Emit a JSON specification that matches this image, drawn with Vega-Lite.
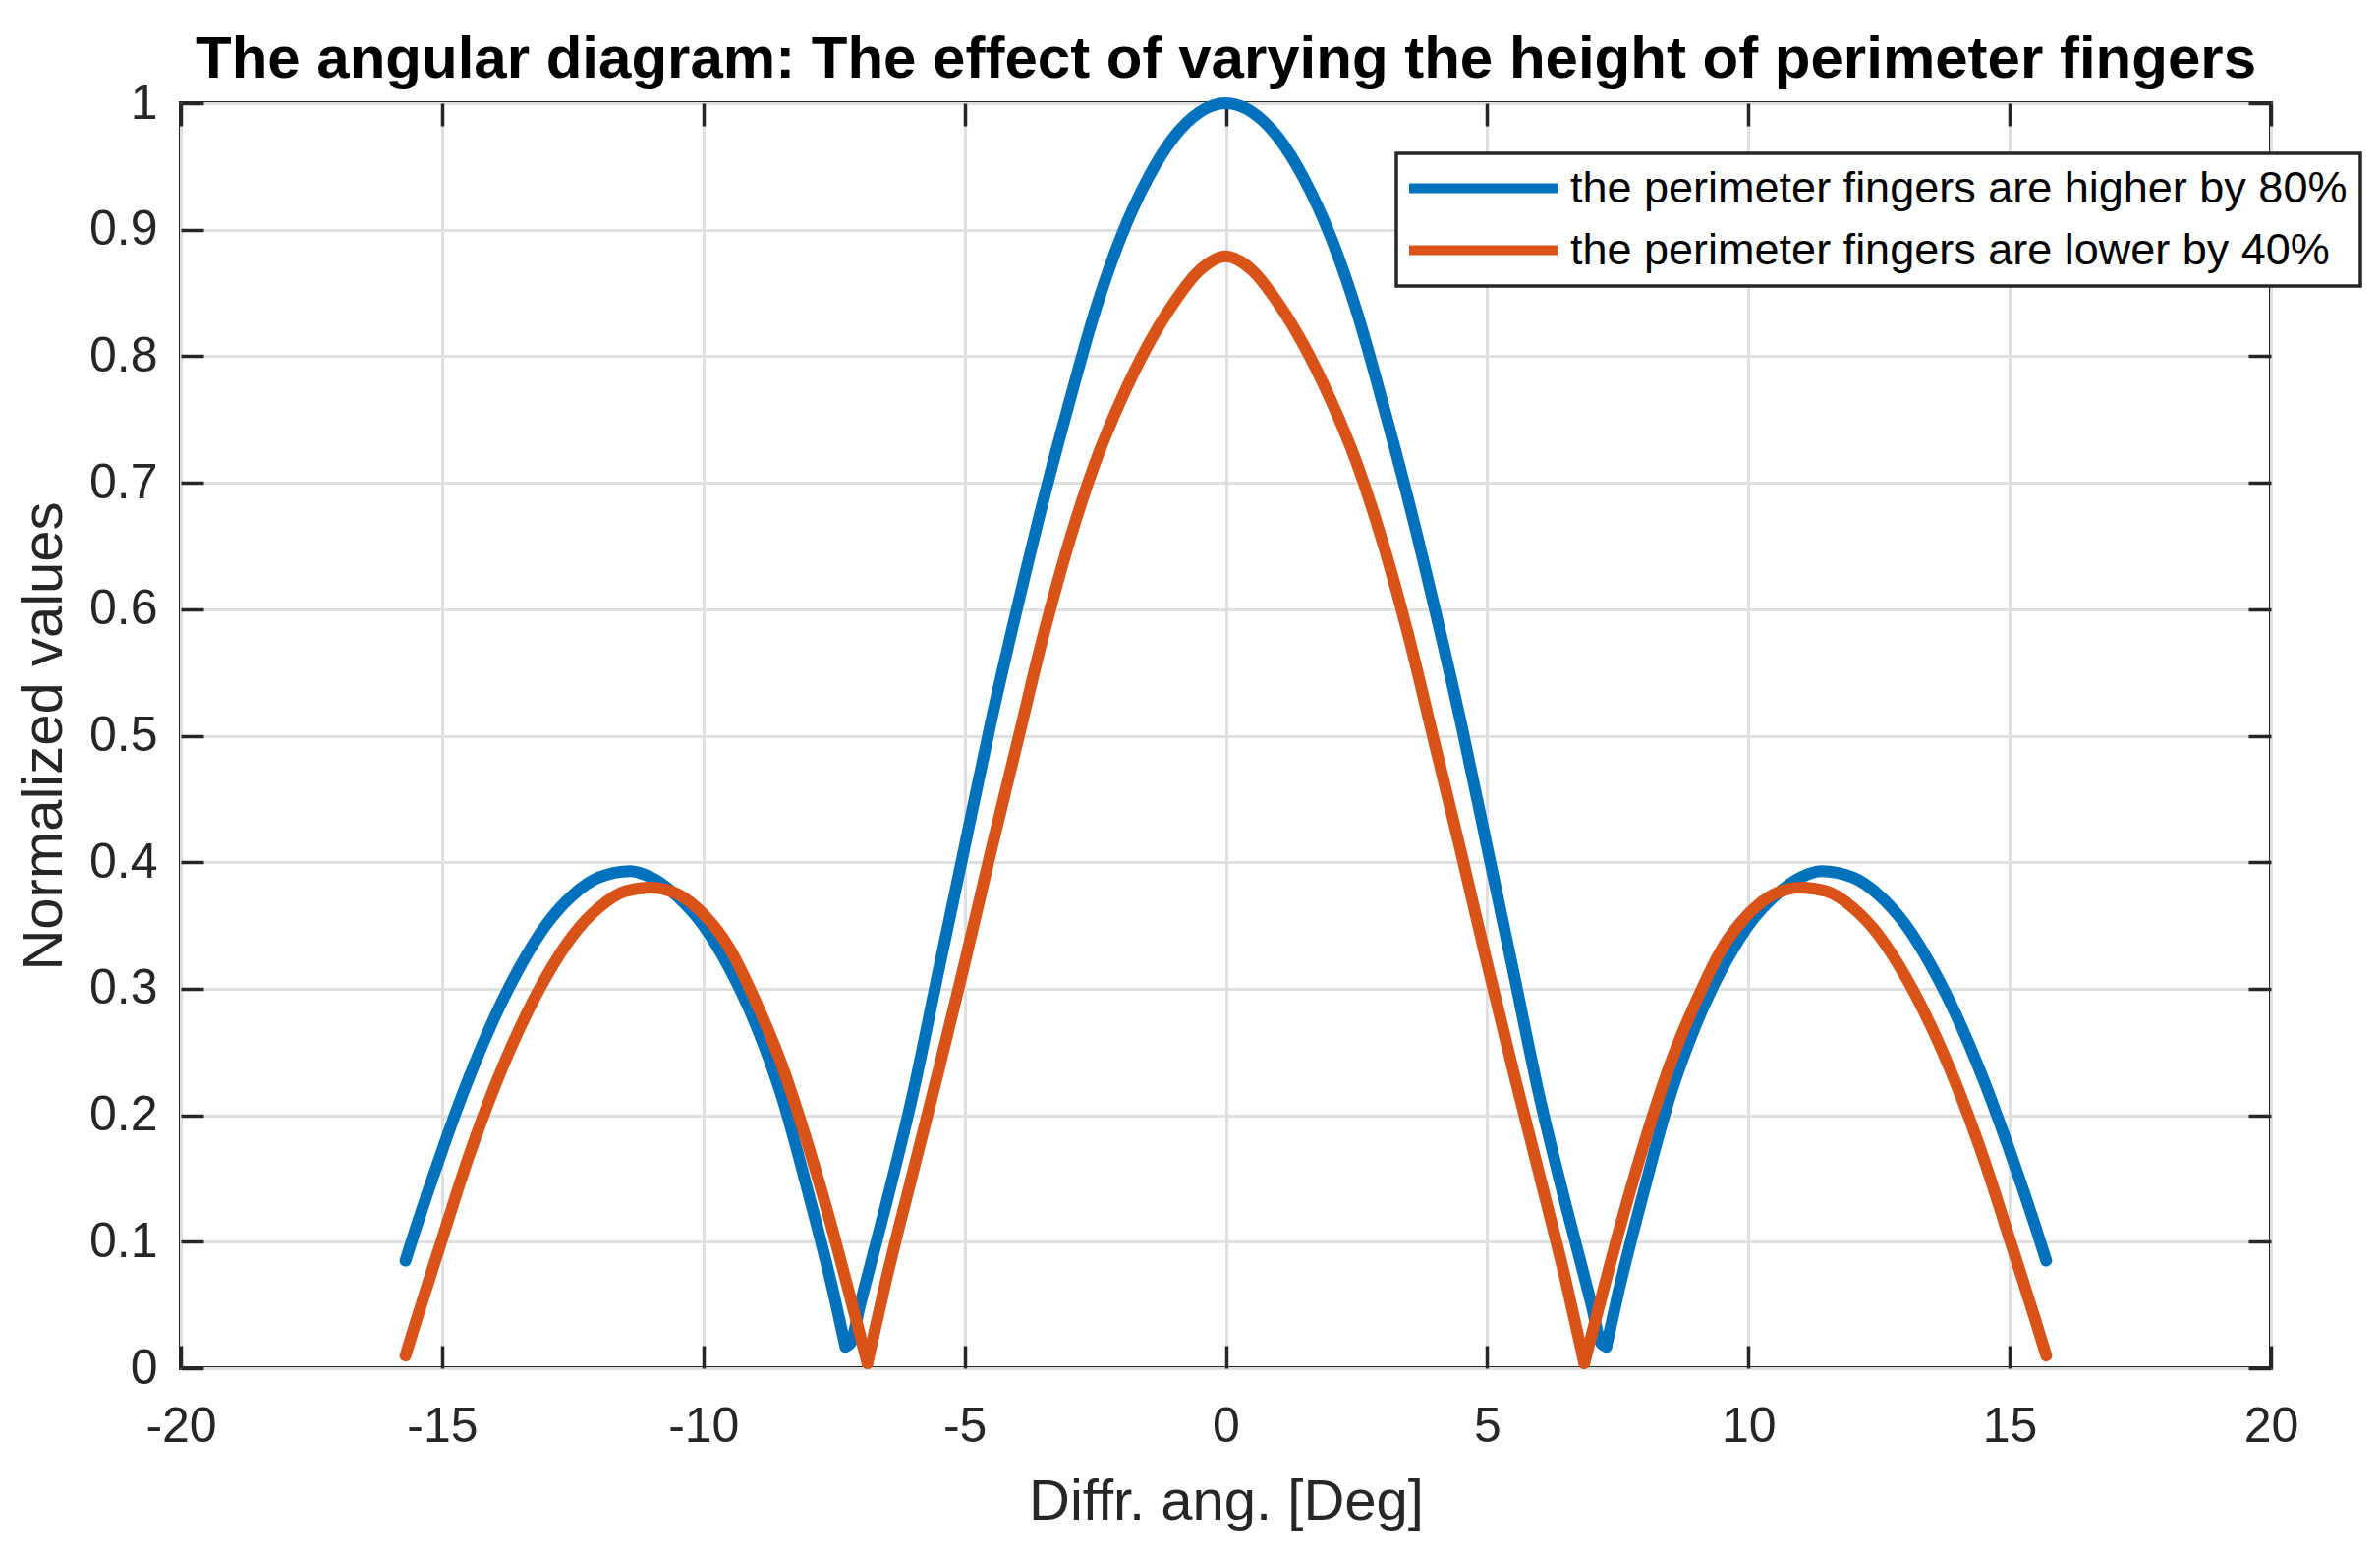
{
  "$schema": "https://vega.github.io/schema/vega-lite/v6.json",
  "width": 2127,
  "height": 1287,
  "autosize": {"type": "none"},
  "padding": {"left": 184, "top": 105, "right": 111, "bottom": 190},
  "background": "white",
  "title": {
    "text": "The angular diagram: The effect of varying the height of perimeter fingers",
    "font": "Liberation Sans", "fontSize": 60, "fontWeight": "bold", "color": "#000000",
    "anchor": "middle", "frame": "group", "baseline": "alphabetic", "offset": -59
  },
  "config": {
    "font": "Liberation Sans",
    "view": {"stroke": "#262626", "strokeWidth": 4},
    "legend": {"strokeWidth": 3.5}
  },
  "data": {"values": [
    {"angle": -15.7, "value": 0.085, "part": 1, "series": "the perimeter fingers are higher by 80%"},
    {"angle": -15.5, "value": 0.111, "part": 1, "series": "the perimeter fingers are higher by 80%"},
    {"angle": -15.0, "value": 0.172, "part": 1, "series": "the perimeter fingers are higher by 80%"},
    {"angle": -14.5, "value": 0.228, "part": 1, "series": "the perimeter fingers are higher by 80%"},
    {"angle": -14.0, "value": 0.277, "part": 1, "series": "the perimeter fingers are higher by 80%"},
    {"angle": -13.5, "value": 0.318, "part": 1, "series": "the perimeter fingers are higher by 80%"},
    {"angle": -13.0, "value": 0.351, "part": 1, "series": "the perimeter fingers are higher by 80%"},
    {"angle": -12.5, "value": 0.374, "part": 1, "series": "the perimeter fingers are higher by 80%"},
    {"angle": -12.0, "value": 0.388, "part": 1, "series": "the perimeter fingers are higher by 80%"},
    {"angle": -11.4, "value": 0.393, "part": 1, "series": "the perimeter fingers are higher by 80%"},
    {"angle": -11.0, "value": 0.388, "part": 1, "series": "the perimeter fingers are higher by 80%"},
    {"angle": -10.5, "value": 0.373, "part": 1, "series": "the perimeter fingers are higher by 80%"},
    {"angle": -10.0, "value": 0.350, "part": 1, "series": "the perimeter fingers are higher by 80%"},
    {"angle": -9.5, "value": 0.316, "part": 1, "series": "the perimeter fingers are higher by 80%"},
    {"angle": -9.0, "value": 0.272, "part": 1, "series": "the perimeter fingers are higher by 80%"},
    {"angle": -8.5, "value": 0.215, "part": 1, "series": "the perimeter fingers are higher by 80%"},
    {"angle": -8.0, "value": 0.140, "part": 1, "series": "the perimeter fingers are higher by 80%"},
    {"angle": -7.5, "value": 0.058, "part": 1, "series": "the perimeter fingers are higher by 80%"},
    {"angle": -7.28, "value": 0.017, "part": 1, "series": "the perimeter fingers are higher by 80%"},
    {"angle": -7.28, "value": 0.017, "part": 2, "series": "the perimeter fingers are higher by 80%"},
    {"angle": -7.18, "value": 0.02, "part": 2, "series": "the perimeter fingers are higher by 80%"},
    {"angle": -7.0, "value": 0.05, "part": 2, "series": "the perimeter fingers are higher by 80%"},
    {"angle": -6.5, "value": 0.13, "part": 2, "series": "the perimeter fingers are higher by 80%"},
    {"angle": -6.0, "value": 0.215, "part": 2, "series": "the perimeter fingers are higher by 80%"},
    {"angle": -5.5, "value": 0.314, "part": 2, "series": "the perimeter fingers are higher by 80%"},
    {"angle": -5.0, "value": 0.412, "part": 2, "series": "the perimeter fingers are higher by 80%"},
    {"angle": -4.5, "value": 0.51, "part": 2, "series": "the perimeter fingers are higher by 80%"},
    {"angle": -4.0, "value": 0.60, "part": 2, "series": "the perimeter fingers are higher by 80%"},
    {"angle": -3.5, "value": 0.685, "part": 2, "series": "the perimeter fingers are higher by 80%"},
    {"angle": -3.0, "value": 0.763, "part": 2, "series": "the perimeter fingers are higher by 80%"},
    {"angle": -2.5, "value": 0.836, "part": 2, "series": "the perimeter fingers are higher by 80%"},
    {"angle": -2.0, "value": 0.895, "part": 2, "series": "the perimeter fingers are higher by 80%"},
    {"angle": -1.5, "value": 0.94, "part": 2, "series": "the perimeter fingers are higher by 80%"},
    {"angle": -1.0, "value": 0.973, "part": 2, "series": "the perimeter fingers are higher by 80%"},
    {"angle": -0.5, "value": 0.993, "part": 2, "series": "the perimeter fingers are higher by 80%"},
    {"angle": 0.0, "value": 1.0, "part": 2, "series": "the perimeter fingers are higher by 80%"},
    {"angle": 0.5, "value": 0.993, "part": 2, "series": "the perimeter fingers are higher by 80%"},
    {"angle": 1.0, "value": 0.973, "part": 2, "series": "the perimeter fingers are higher by 80%"},
    {"angle": 1.5, "value": 0.94, "part": 2, "series": "the perimeter fingers are higher by 80%"},
    {"angle": 2.0, "value": 0.895, "part": 2, "series": "the perimeter fingers are higher by 80%"},
    {"angle": 2.5, "value": 0.836, "part": 2, "series": "the perimeter fingers are higher by 80%"},
    {"angle": 3.0, "value": 0.763, "part": 2, "series": "the perimeter fingers are higher by 80%"},
    {"angle": 3.5, "value": 0.685, "part": 2, "series": "the perimeter fingers are higher by 80%"},
    {"angle": 4.0, "value": 0.60, "part": 2, "series": "the perimeter fingers are higher by 80%"},
    {"angle": 4.5, "value": 0.51, "part": 2, "series": "the perimeter fingers are higher by 80%"},
    {"angle": 5.0, "value": 0.412, "part": 2, "series": "the perimeter fingers are higher by 80%"},
    {"angle": 5.5, "value": 0.314, "part": 2, "series": "the perimeter fingers are higher by 80%"},
    {"angle": 6.0, "value": 0.215, "part": 2, "series": "the perimeter fingers are higher by 80%"},
    {"angle": 6.5, "value": 0.13, "part": 2, "series": "the perimeter fingers are higher by 80%"},
    {"angle": 7.0, "value": 0.05, "part": 2, "series": "the perimeter fingers are higher by 80%"},
    {"angle": 7.18, "value": 0.02, "part": 2, "series": "the perimeter fingers are higher by 80%"},
    {"angle": 7.28, "value": 0.017, "part": 2, "series": "the perimeter fingers are higher by 80%"},
    {"angle": 7.28, "value": 0.017, "part": 3, "series": "the perimeter fingers are higher by 80%"},
    {"angle": 7.5, "value": 0.058, "part": 3, "series": "the perimeter fingers are higher by 80%"},
    {"angle": 8.0, "value": 0.140, "part": 3, "series": "the perimeter fingers are higher by 80%"},
    {"angle": 8.5, "value": 0.215, "part": 3, "series": "the perimeter fingers are higher by 80%"},
    {"angle": 9.0, "value": 0.272, "part": 3, "series": "the perimeter fingers are higher by 80%"},
    {"angle": 9.5, "value": 0.316, "part": 3, "series": "the perimeter fingers are higher by 80%"},
    {"angle": 10.0, "value": 0.350, "part": 3, "series": "the perimeter fingers are higher by 80%"},
    {"angle": 10.5, "value": 0.373, "part": 3, "series": "the perimeter fingers are higher by 80%"},
    {"angle": 11.0, "value": 0.388, "part": 3, "series": "the perimeter fingers are higher by 80%"},
    {"angle": 11.4, "value": 0.393, "part": 3, "series": "the perimeter fingers are higher by 80%"},
    {"angle": 12.0, "value": 0.388, "part": 3, "series": "the perimeter fingers are higher by 80%"},
    {"angle": 12.5, "value": 0.374, "part": 3, "series": "the perimeter fingers are higher by 80%"},
    {"angle": 13.0, "value": 0.351, "part": 3, "series": "the perimeter fingers are higher by 80%"},
    {"angle": 13.5, "value": 0.318, "part": 3, "series": "the perimeter fingers are higher by 80%"},
    {"angle": 14.0, "value": 0.277, "part": 3, "series": "the perimeter fingers are higher by 80%"},
    {"angle": 14.5, "value": 0.228, "part": 3, "series": "the perimeter fingers are higher by 80%"},
    {"angle": 15.0, "value": 0.172, "part": 3, "series": "the perimeter fingers are higher by 80%"},
    {"angle": 15.5, "value": 0.111, "part": 3, "series": "the perimeter fingers are higher by 80%"},
    {"angle": 15.7, "value": 0.085, "part": 3, "series": "the perimeter fingers are higher by 80%"},
    {"angle": -15.7, "value": 0.01, "part": 1, "series": "the perimeter fingers are lower by 40%"},
    {"angle": -15.5, "value": 0.037, "part": 1, "series": "the perimeter fingers are lower by 40%"},
    {"angle": -15.0, "value": 0.102, "part": 1, "series": "the perimeter fingers are lower by 40%"},
    {"angle": -14.5, "value": 0.166, "part": 1, "series": "the perimeter fingers are lower by 40%"},
    {"angle": -14.0, "value": 0.222, "part": 1, "series": "the perimeter fingers are lower by 40%"},
    {"angle": -13.5, "value": 0.27, "part": 1, "series": "the perimeter fingers are lower by 40%"},
    {"angle": -13.0, "value": 0.31, "part": 1, "series": "the perimeter fingers are lower by 40%"},
    {"angle": -12.5, "value": 0.342, "part": 1, "series": "the perimeter fingers are lower by 40%"},
    {"angle": -12.0, "value": 0.364, "part": 1, "series": "the perimeter fingers are lower by 40%"},
    {"angle": -11.5, "value": 0.377, "part": 1, "series": "the perimeter fingers are lower by 40%"},
    {"angle": -11.0, "value": 0.380, "part": 1, "series": "the perimeter fingers are lower by 40%"},
    {"angle": -10.5, "value": 0.375, "part": 1, "series": "the perimeter fingers are lower by 40%"},
    {"angle": -10.0, "value": 0.359, "part": 1, "series": "the perimeter fingers are lower by 40%"},
    {"angle": -9.5, "value": 0.332, "part": 1, "series": "the perimeter fingers are lower by 40%"},
    {"angle": -9.0, "value": 0.29, "part": 1, "series": "the perimeter fingers are lower by 40%"},
    {"angle": -8.5, "value": 0.24, "part": 1, "series": "the perimeter fingers are lower by 40%"},
    {"angle": -8.0, "value": 0.177, "part": 1, "series": "the perimeter fingers are lower by 40%"},
    {"angle": -7.5, "value": 0.105, "part": 1, "series": "the perimeter fingers are lower by 40%"},
    {"angle": -7.2, "value": 0.058, "part": 1, "series": "the perimeter fingers are lower by 40%"},
    {"angle": -6.86, "value": 0.004, "part": 1, "series": "the perimeter fingers are lower by 40%"},
    {"angle": -6.86, "value": 0.004, "part": 2, "series": "the perimeter fingers are lower by 40%"},
    {"angle": -6.5, "value": 0.07, "part": 2, "series": "the perimeter fingers are lower by 40%"},
    {"angle": -6.0, "value": 0.153, "part": 2, "series": "the perimeter fingers are lower by 40%"},
    {"angle": -5.5, "value": 0.235, "part": 2, "series": "the perimeter fingers are lower by 40%"},
    {"angle": -5.0, "value": 0.32, "part": 2, "series": "the perimeter fingers are lower by 40%"},
    {"angle": -4.5, "value": 0.408, "part": 2, "series": "the perimeter fingers are lower by 40%"},
    {"angle": -4.0, "value": 0.493, "part": 2, "series": "the perimeter fingers are lower by 40%"},
    {"angle": -3.5, "value": 0.578, "part": 2, "series": "the perimeter fingers are lower by 40%"},
    {"angle": -3.0, "value": 0.653, "part": 2, "series": "the perimeter fingers are lower by 40%"},
    {"angle": -2.5, "value": 0.716, "part": 2, "series": "the perimeter fingers are lower by 40%"},
    {"angle": -2.0, "value": 0.766, "part": 2, "series": "the perimeter fingers are lower by 40%"},
    {"angle": -1.5, "value": 0.808, "part": 2, "series": "the perimeter fingers are lower by 40%"},
    {"angle": -1.0, "value": 0.842, "part": 2, "series": "the perimeter fingers are lower by 40%"},
    {"angle": -0.5, "value": 0.868, "part": 2, "series": "the perimeter fingers are lower by 40%"},
    {"angle": 0.0, "value": 0.879, "part": 2, "series": "the perimeter fingers are lower by 40%"},
    {"angle": 0.5, "value": 0.868, "part": 2, "series": "the perimeter fingers are lower by 40%"},
    {"angle": 1.0, "value": 0.842, "part": 2, "series": "the perimeter fingers are lower by 40%"},
    {"angle": 1.5, "value": 0.808, "part": 2, "series": "the perimeter fingers are lower by 40%"},
    {"angle": 2.0, "value": 0.766, "part": 2, "series": "the perimeter fingers are lower by 40%"},
    {"angle": 2.5, "value": 0.716, "part": 2, "series": "the perimeter fingers are lower by 40%"},
    {"angle": 3.0, "value": 0.653, "part": 2, "series": "the perimeter fingers are lower by 40%"},
    {"angle": 3.5, "value": 0.578, "part": 2, "series": "the perimeter fingers are lower by 40%"},
    {"angle": 4.0, "value": 0.493, "part": 2, "series": "the perimeter fingers are lower by 40%"},
    {"angle": 4.5, "value": 0.408, "part": 2, "series": "the perimeter fingers are lower by 40%"},
    {"angle": 5.0, "value": 0.32, "part": 2, "series": "the perimeter fingers are lower by 40%"},
    {"angle": 5.5, "value": 0.235, "part": 2, "series": "the perimeter fingers are lower by 40%"},
    {"angle": 6.0, "value": 0.153, "part": 2, "series": "the perimeter fingers are lower by 40%"},
    {"angle": 6.5, "value": 0.07, "part": 2, "series": "the perimeter fingers are lower by 40%"},
    {"angle": 6.86, "value": 0.004, "part": 2, "series": "the perimeter fingers are lower by 40%"},
    {"angle": 6.86, "value": 0.004, "part": 3, "series": "the perimeter fingers are lower by 40%"},
    {"angle": 7.2, "value": 0.058, "part": 3, "series": "the perimeter fingers are lower by 40%"},
    {"angle": 7.5, "value": 0.105, "part": 3, "series": "the perimeter fingers are lower by 40%"},
    {"angle": 8.0, "value": 0.177, "part": 3, "series": "the perimeter fingers are lower by 40%"},
    {"angle": 8.5, "value": 0.24, "part": 3, "series": "the perimeter fingers are lower by 40%"},
    {"angle": 9.0, "value": 0.29, "part": 3, "series": "the perimeter fingers are lower by 40%"},
    {"angle": 9.5, "value": 0.332, "part": 3, "series": "the perimeter fingers are lower by 40%"},
    {"angle": 10.0, "value": 0.359, "part": 3, "series": "the perimeter fingers are lower by 40%"},
    {"angle": 10.5, "value": 0.375, "part": 3, "series": "the perimeter fingers are lower by 40%"},
    {"angle": 11.0, "value": 0.380, "part": 3, "series": "the perimeter fingers are lower by 40%"},
    {"angle": 11.5, "value": 0.377, "part": 3, "series": "the perimeter fingers are lower by 40%"},
    {"angle": 12.0, "value": 0.364, "part": 3, "series": "the perimeter fingers are lower by 40%"},
    {"angle": 12.5, "value": 0.342, "part": 3, "series": "the perimeter fingers are lower by 40%"},
    {"angle": 13.0, "value": 0.31, "part": 3, "series": "the perimeter fingers are lower by 40%"},
    {"angle": 13.5, "value": 0.27, "part": 3, "series": "the perimeter fingers are lower by 40%"},
    {"angle": 14.0, "value": 0.222, "part": 3, "series": "the perimeter fingers are lower by 40%"},
    {"angle": 14.5, "value": 0.166, "part": 3, "series": "the perimeter fingers are lower by 40%"},
    {"angle": 15.0, "value": 0.102, "part": 3, "series": "the perimeter fingers are lower by 40%"},
    {"angle": 15.5, "value": 0.037, "part": 3, "series": "the perimeter fingers are lower by 40%"},
    {"angle": 15.7, "value": 0.01, "part": 3, "series": "the perimeter fingers are lower by 40%"}
  ]},
  "layer": [
    {
      "mark": {"type": "line", "strokeWidth": 12, "interpolate": "monotone", "strokeCap": "round", "strokeJoin": "round"},
      "encoding": {
        "x": {
          "field": "angle", "type": "quantitative",
          "scale": {"domain": [-20, 20], "nice": false, "zero": false},
          "axis": {
            "orient": "bottom",
            "values": [-20, -15, -10, -5, 0, 5, 10, 15, 20],
            "labelExpr": "'' + datum.value",
            "labelFontSize": 50, "labelColor": "#262626", "labelPadding": 57,
            "labelFlush": false, "labelOverlap": false,
            "tickSize": -23, "tickColor": "#262626", "tickWidth": 3.5,
            "domain": false,
            "grid": true, "gridColor": "#dfdfdf", "gridWidth": 3,
            "title": "Diffr. ang. [Deg]", "titleFontSize": 58, "titleFontWeight": "normal",
            "titleColor": "#262626", "titleBaseline": "alphabetic", "titleX": 1063.5, "titleY": 153
          }
        },
        "y": {
          "field": "value", "type": "quantitative",
          "scale": {"domain": [0, 1], "nice": false},
          "axis": {
            "orient": "left",
            "values": [0, 0.1, 0.2, 0.3, 0.4, 0.5, 0.6, 0.7, 0.8, 0.9, 1],
            "labelExpr": "'' + datum.value",
            "labelFontSize": 50, "labelColor": "#262626", "labelPadding": 47,
            "labelFlush": false, "labelOverlap": false,
            "tickSize": -23, "tickColor": "#262626", "tickWidth": 3.5,
            "domain": false,
            "grid": true, "gridColor": "#dfdfdf", "gridWidth": 3,
            "title": "Normalized values", "titleFontSize": 58, "titleFontWeight": "normal",
            "titleColor": "#262626", "titleBaseline": "alphabetic", "titleAngle": 270,
            "titleX": -122, "titleY": 643.5
          }
        },
        "color": {
          "field": "series", "type": "nominal",
          "scale": {
            "domain": ["the perimeter fingers are higher by 80%", "the perimeter fingers are lower by 40%"],
            "range": ["#0072BD", "#D95319"]
          },
          "legend": {
            "orient": "none", "legendX": 1237, "legendY": 51,
            "title": null,
            "symbolType": "M-6,0H6", "symbolSize": 634, "symbolStrokeWidth": 10, "symbolOffset": 53,
            "labelFontSize": 45, "labelColor": "#000000", "labelLimit": 2000, "labelOffset": 66,
            "padding": 13, "rowPadding": 17,
            "strokeColor": "#262626", "fillColor": "#ffffff"
          }
        },
        "detail": {"field": "part", "type": "nominal"}
      }
    },
    {
      "mark": {"type": "line", "opacity": 0},
      "encoding": {
        "x": {
          "field": "angle", "type": "quantitative",
          "axis": {
            "orient": "top",
            "values": [-20, -15, -10, -5, 0, 5, 10, 15, 20],
            "labels": false, "title": null, "grid": false, "domain": false,
            "tickSize": -23, "tickColor": "#262626", "tickWidth": 3.5
          }
        },
        "y": {
          "field": "value", "type": "quantitative",
          "axis": {
            "orient": "right",
            "values": [0, 0.1, 0.2, 0.3, 0.4, 0.5, 0.6, 0.7, 0.8, 0.9, 1],
            "labels": false, "title": null, "grid": false, "domain": false,
            "tickSize": -23, "tickColor": "#262626", "tickWidth": 3.5
          }
        },
        "detail": {"field": "series"}
      }
    }
  ],
  "resolve": {"axis": {"x": "independent", "y": "independent"}}
}
